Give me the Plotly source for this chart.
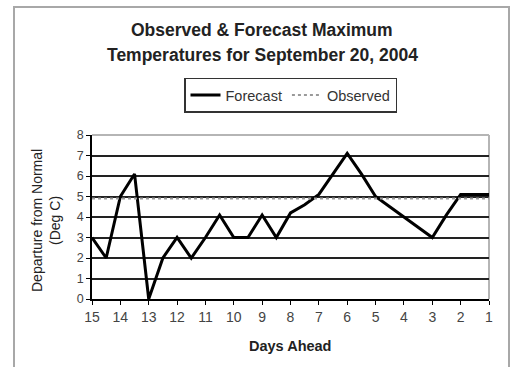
import plotly.graph_objects as go

# Forecast issued N days ahead (half-day steps) and departure from normal (deg C)
forecast_days = [15, 14.5, 14, 13.5, 13, 12.5, 12, 11.5, 11, 10.5, 10, 9.5, 9, 8.5, 8,
                 7.5, 7, 6.5, 6, 5.5, 5, 4.5, 4, 3.5, 3, 2.5, 2, 1.5, 1]
forecast_vals = [3, 2, 5, 6.1, 0, 2, 3, 2, 3, 4.1, 3, 3, 4.1, 3, 4.2,
                 4.6, 5.1, 6.1, 7.1, 6.1, 5, 4.5, 4, 3.5, 3, 4.1, 5.1, 5.1, 5.1]
observed_days = [15, 1]
observed_vals = [4.9, 4.9]
x_ticks = list(range(15, 0, -1))
y_ticks = list(range(0, 9))

W, H = 510, 367
L, R, T, B = 92, 21, 135, 68
pw, ph = W - L - R, H - T - B


def px_x(x):
    return (x - L) / pw


def px_y(y):
    return (H - B - y) / ph


fig = go.Figure()
fig.add_trace(go.Scatter(x=forecast_days, y=forecast_vals, mode="lines", name="Forecast",
                         line=dict(color="black", width=3)))
fig.add_trace(go.Scatter(x=observed_days, y=observed_vals, mode="lines", name="Observed",
                         line=dict(color="#9a9a9a", width=2, dash="dot")))

font = "Liberation Sans, Arial, sans-serif"


def label(text, x, y, size, angle=0):
    return dict(text=text, xref="paper", yref="paper", x=px_x(x), y=px_y(y),
                xanchor="center", yanchor="middle", showarrow=False, textangle=angle,
                font=dict(size=size, color="#222"))


fig.update_layout(
    width=W, height=H,
    margin=dict(l=L, r=R, t=T, b=B),
    paper_bgcolor="white", plot_bgcolor="white",
    font=dict(family=font, color="#222"),
    showlegend=True,
    legend=dict(orientation="h", x=0.5, xanchor="center", y=px_y(95), yanchor="middle",
                bordercolor="#333", borderwidth=1.5, font=dict(size=14.5, color="#333"),
                tracegroupgap=0, bgcolor="white"),
    xaxis=dict(range=[15, 1], tickvals=x_ticks, ticktext=[str(v) for v in x_ticks],
               showgrid=False, zeroline=False, showline=True, linecolor="black", linewidth=1.5,
               ticks="outside", ticklen=4, tickcolor="black", tickfont=dict(size=14, color="#444")),
    yaxis=dict(range=[0, 8], tickvals=y_ticks, showgrid=True, gridcolor="#222", gridwidth=1.5,
               zeroline=False, showline=True, linecolor="black", linewidth=1.5,
               ticks="outside", ticklen=4, tickcolor="black", tickfont=dict(size=12.5, color="#444")),
    annotations=[
        label("<b>Observed & Forecast Maximum</b>", 262, 30, 17.5),
        label("<b>Temperatures for September 20, 2004</b>", 262, 55, 17.5),
        label("<b>Days Ahead</b>", 290, 346, 14.5),
        label("Departure from Normal<br>(Deg C)", 46, 221, 14, angle=-90),
    ],
    shapes=[
        # light plot-area border on top and right
        dict(type="line", xref="paper", yref="paper", x0=0, x1=1, y0=1, y1=1,
             line=dict(color="#b5b5b5", width=2), layer="between"),
        dict(type="line", xref="paper", yref="paper", x0=1, x1=1, y0=0, y1=1,
             line=dict(color="#b5b5b5", width=2), layer="between"),
        # chart-area frame
        dict(type="rect", xref="paper", yref="paper", x0=px_x(14), x1=px_x(509),
             y0=px_y(7), y1=px_y(380), line=dict(color="#a8a8a8", width=2), layer="below"),
    ],
)

fig.write_html("out.html")
